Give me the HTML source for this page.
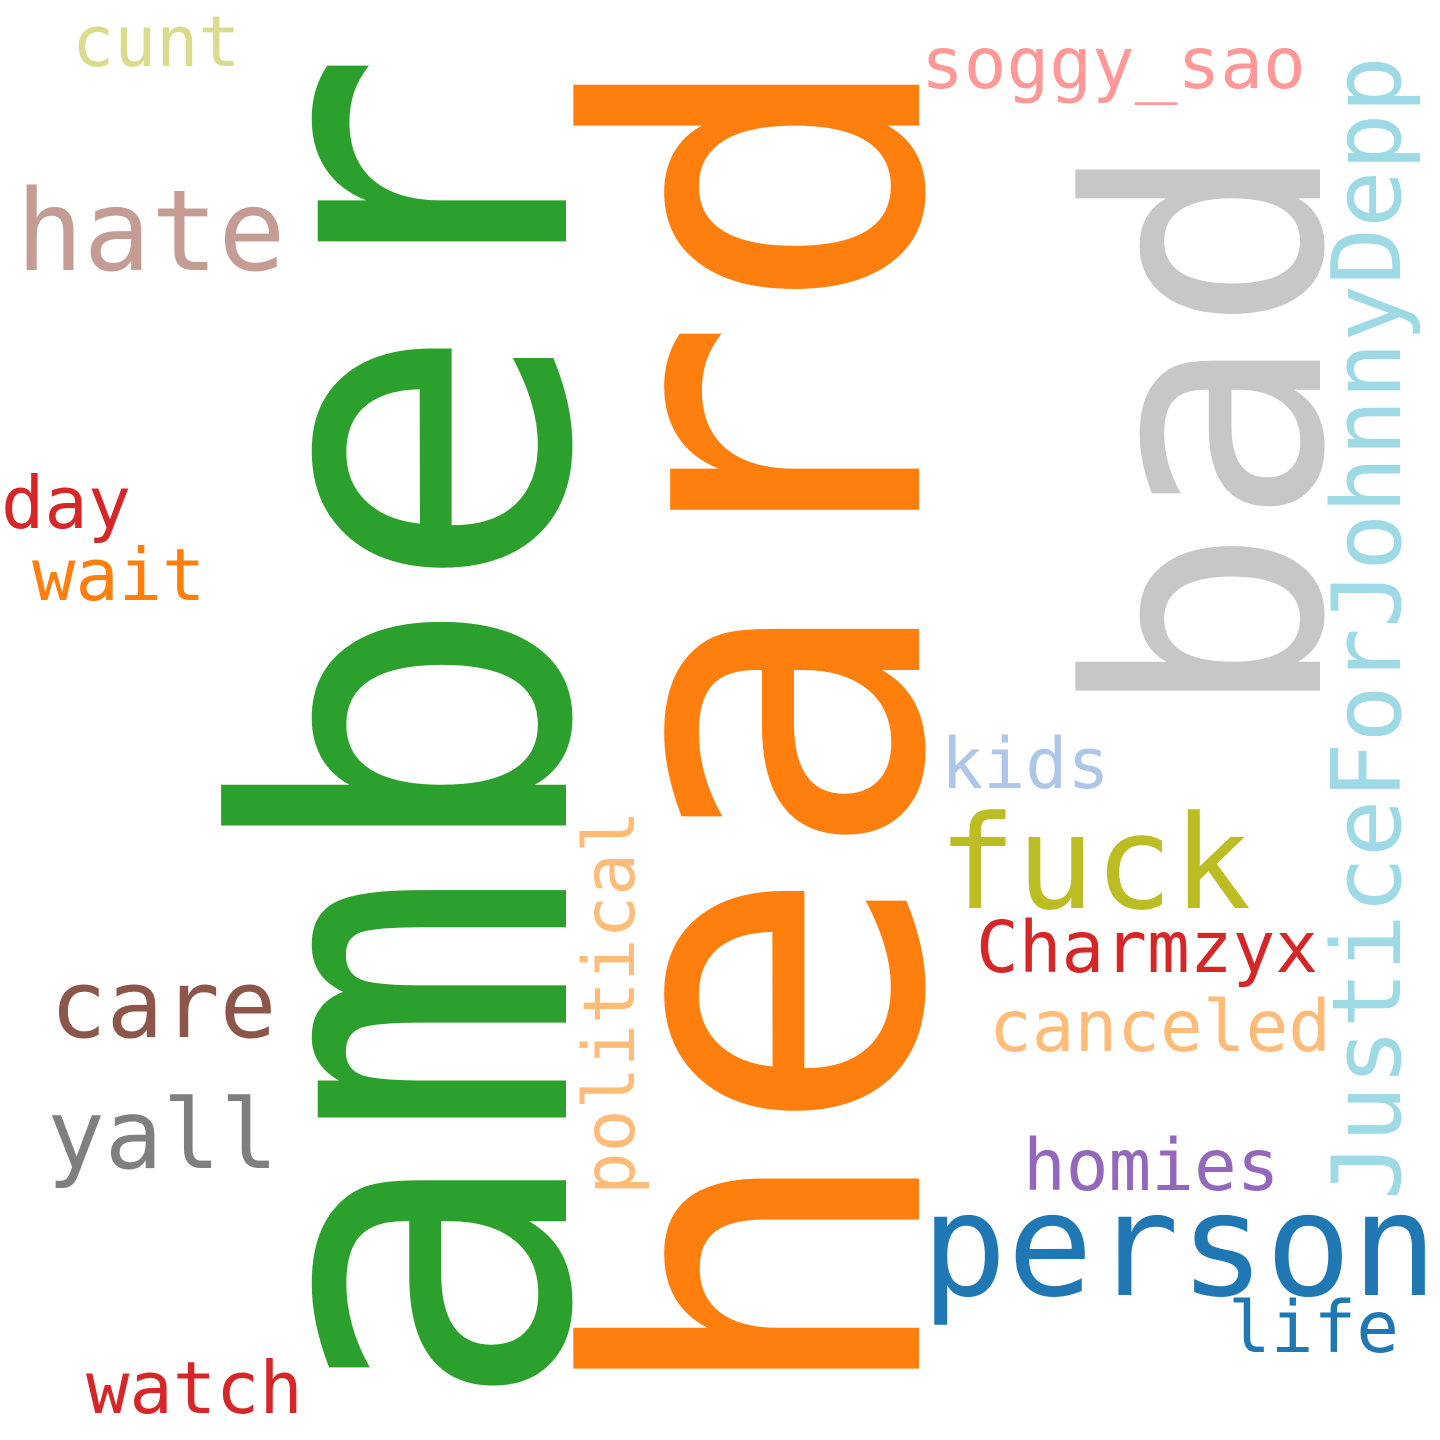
<!DOCTYPE html>
<html><head><meta charset="utf-8"><style>
html,body{margin:0;padding:0;background:#fff;}
svg{display:block;}
text{font-family:"DejaVu Sans Mono","Liberation Mono",monospace;}
</style></head><body>
<svg width="1440" height="1440" viewBox="0 0 1440 1440">
<rect width="1440" height="1440" fill="#fff"/>
<text font-size="454" fill="#2ca02c" transform="translate(566,1415) rotate(-90)">amber</text>
<text font-size="455" fill="#ff7f0e" transform="translate(919,1412) rotate(-90)">heard</text>
<text font-size="322" fill="#c7c7c7" transform="translate(1320,721) rotate(-90)">bad</text>
<text font-size="95" fill="#9edae5" transform="translate(1400,1200) rotate(-90)">JusticeForJohnnyDepp</text>
<text font-size="71" fill="#ffbb78" transform="translate(634,1195) rotate(-90)">political</text>
<text font-size="112" fill="#c49c94" x="16" y="270">hate</text>
<text font-size="70" fill="#dbdb8d" x="72" y="66">cunt</text>
<text font-size="71" fill="#ff9896" x="921" y="88">soggy_sao</text>
<text font-size="72" fill="#d62728" x="1" y="528">day</text>
<text font-size="72" fill="#ff7f0e" x="32" y="600">wait</text>
<text font-size="70" fill="#aec7e8" x="941" y="788">kids</text>
<text font-size="130" fill="#bcbd22" x="938" y="908">fuck</text>
<text font-size="71" fill="#d62728" x="976" y="972">Charmzyx</text>
<text font-size="71" fill="#ffbb78" x="989" y="1051">canceled</text>
<text font-size="94" fill="#8c564b" x="50" y="1037">care</text>
<text font-size="96" fill="#7f7f7f" x="47" y="1168">yall</text>
<text font-size="71" fill="#9467bd" x="1023" y="1190">homies</text>
<text font-size="143" fill="#1f77b4" x="921" y="1295">person</text>
<text font-size="71" fill="#1f77b4" x="1228" y="1352">life</text>
<text font-size="72" fill="#d62728" x="86" y="1413">watch</text>
</svg>
</body></html>
